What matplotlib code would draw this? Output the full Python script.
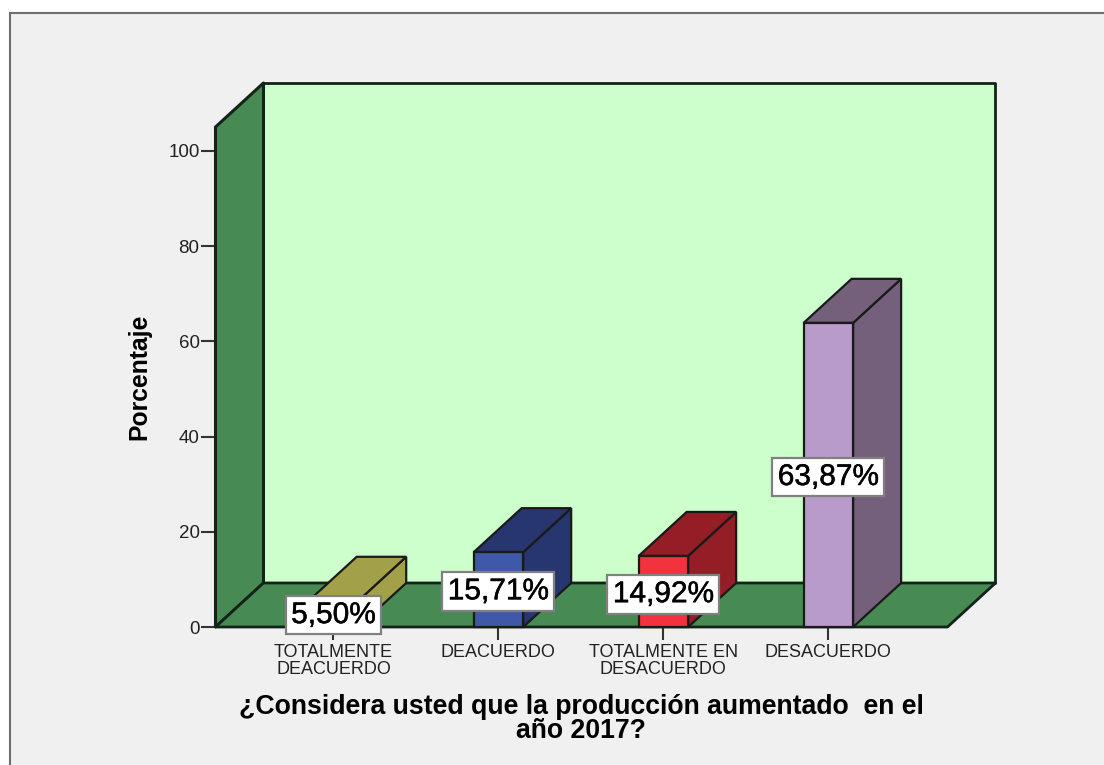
import matplotlib
matplotlib.use('Agg')
import matplotlib.pyplot as plt
import matplotlib.patheffects as pe
from matplotlib.patches import Polygon, Rectangle

categories = ['TOTALMENTE\nDEACUERDO', 'DEACUERDO', 'TOTALMENTE EN\nDESACUERDO', 'DESACUERDO']
values = [5.50, 15.71, 14.92, 63.87]
value_labels = ['5,50%', '15,71%', '14,92%', '63,87%']
yticks = [0, 20, 40, 60, 80, 100]

front_colors = ['#A3A04A', '#3F58A8', '#F2333F', '#B89ACB']
side_colors = ['#A3A04A', '#27366F', '#941D26', '#75607C']
label_y = [2.5, 7.5, 6.9, 31.5]

W, H = 1104, 765
plt.rcParams['font.family'] = ['Liberation Sans', 'DejaVu Sans']

fig = plt.figure(figsize=(W / 100, H / 100), dpi=100, facecolor='white')
fig.add_artist(Rectangle((10 / W, -0.01), 1.1, (H - 13) / H + 0.01, transform=fig.transFigure,
                         facecolor='#F0F0F0', edgecolor='#6E6E6E', linewidth=1.5, zorder=-1))

# front plane of the 3d box, depth is added by hand
ax = fig.add_axes([215.5 / W, 1 - 627 / H, (947.5 - 215.5) / W, 500 / H])
ax.set_facecolor('none')
ax.set_xlim(-0.715, 3.722)
ax.set_ylim(0, 105)
dx = 48 / 165
dy = 44 / 4.76
x0, x1 = ax.get_xlim()
y1 = ax.get_ylim()[1]
edge = '#14231A'

# walls
ax.add_patch(Polygon([(x0 + dx, dy), (x1 + dx, dy), (x1 + dx, y1 + dy), (x0 + dx, y1 + dy)],
                     facecolor='#CCFFCC', edgecolor=edge, lw=2, joinstyle='round', clip_on=False, zorder=1))
ax.add_patch(Polygon([(x0, 0), (x0 + dx, dy), (x0 + dx, y1 + dy), (x0, y1)],
                     facecolor='#488A53', edgecolor=edge, lw=2.2, joinstyle='round', clip_on=False, zorder=2))
ax.add_patch(Polygon([(x0, 0), (x1, 0), (x1 + dx, dy), (x0 + dx, dy)],
                     facecolor='#488A53', edgecolor=edge, lw=2, joinstyle='round', clip_on=False, zorder=2))

# bars
w = 0.15
for i, v in enumerate(values):
    ax.add_patch(Polygon([(i + w, 0), (i + w + dx, dy), (i + w + dx, v + dy), (i + w, v)],
                         facecolor=side_colors[i], edgecolor='#1A1A1A', lw=1.6, clip_on=False, zorder=3))
    ax.add_patch(Polygon([(i - w, v), (i + w, v), (i + w + dx, v + dy), (i - w + dx, v + dy)],
                         facecolor=side_colors[i], edgecolor='#1A1A1A', lw=1.6, clip_on=False, zorder=3))
    ax.add_patch(Rectangle((i - w, 0), 2 * w, v, facecolor=front_colors[i], edgecolor='#1A1A1A',
                           lw=1.6, clip_on=False, zorder=4))
    t = ax.text(i, label_y[i], value_labels[i], ha='center', va='center', fontsize=21.5, color='black',
                zorder=6, bbox=dict(boxstyle='square,pad=0.18', facecolor='white', edgecolor='#808080', lw=1.6))
    t.set_path_effects([pe.withStroke(linewidth=0.35, foreground='black')])

for s in ax.spines.values():
    s.set_visible(False)

ax.set_xticks(range(len(categories)))
ax.set_xticklabels(categories, fontsize=13, color='#222222', linespacing=1.05)
ax.set_yticks(yticks)
ax.tick_params(axis='x', length=9, width=1.5, color='#333333', pad=3)
ax.tick_params(axis='y', length=11, width=1.5, color='#333333', pad=0.5, labelsize=13.5, labelcolor='#222222')

fig.text(139 / W, 1 - 377 / H, 'Porcentaje', rotation=90, ha='center', va='center',
         fontsize=17.8, fontweight='bold', color='black')
fig.text(581 / W, 1 - 719 / H, '¿Considera usted que la producción aumentado  en el\naño 2017?',
         ha='center', va='center', fontsize=19.2, fontweight='bold', color='black', linespacing=0.92)

fig.savefig('out.png', dpi=100)
